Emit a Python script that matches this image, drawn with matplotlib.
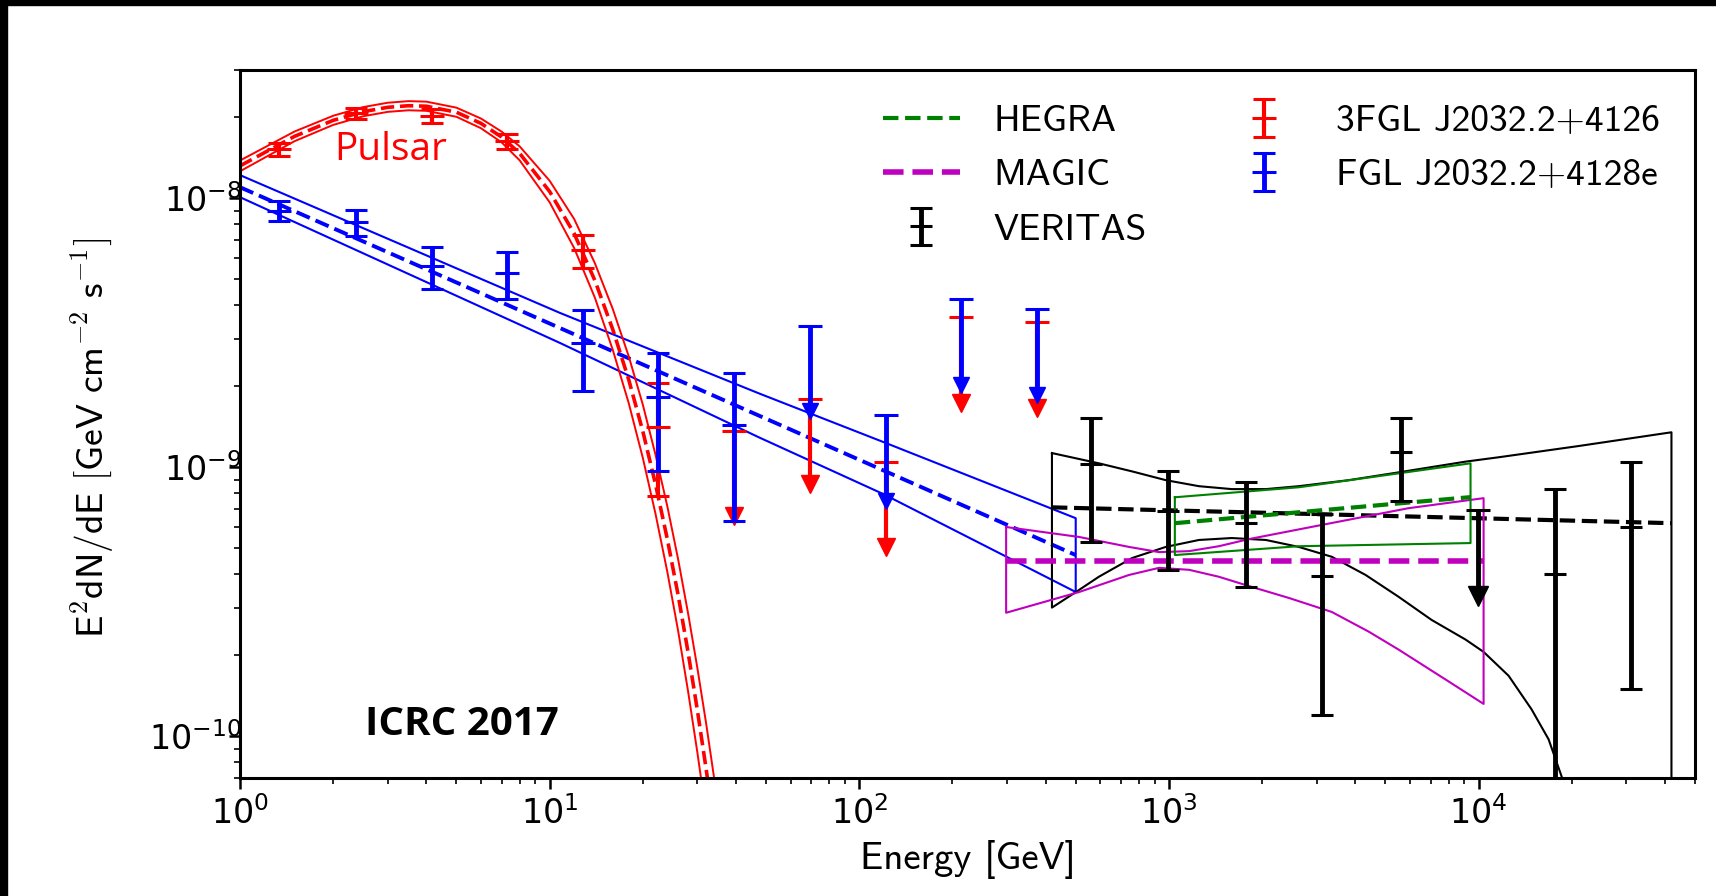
import numpy as np
import matplotlib.pyplot as plt
from matplotlib.patches import Rectangle
from matplotlib.ticker import NullFormatter

plt.rcParams['mathtext.fontset'] = 'cm'

# 3FGL J2032.2+4126 (pulsar) points, GeV and GeV cm^-2 s^-1
psr_e = [1.34, 2.37, 4.16, 7.27, 12.8, 22.4]
psr_f = [1.52e-8, 2.07e-8, 2.02e-8, 1.63e-8, 6.4e-9, 1.415e-9]
psr_err = [0.08e-8, 0.09e-8, 0.12e-8, 0.10e-8, 0.9e-9, 0.635e-9]
psr_ul_e = [39.4, 69.2, 121.6, 213.7, 375.5]
psr_ul = [1.37e-9, 1.80e-9, 1.05e-9, 3.62e-9, 3.47e-9]

# FGL J2032.2+4128e (extended source) points
ext_e = [1.34, 2.37, 4.16, 7.27, 12.8, 22.4, 39.4]
ext_f = [9.0e-9, 8.15e-9, 5.6e-9, 5.27e-9, 2.89e-9, 1.82e-9, 1.44e-9]
ext_err = [0.75e-9, 0.93e-9, 0.98e-9, 1.04e-9, 0.96e-9, 0.85e-9, 0.81e-9]
ext_ul_e = [69.2, 121.6, 213.7, 375.5]
ext_ul = [3.36e-9, 1.56e-9, 4.22e-9, 3.88e-9]

# VERITAS points
ver_e = [560, 993, 1771, 3119, 5600, 17590, 31170]
ver_f = [1.03e-9, 6.9e-10, 6.2e-10, 3.95e-10, 1.14e-9, 4.02e-10, 6.0e-10]
ver_err = [5.0e-10, 2.75e-10, 2.6e-10, 2.75e-10, 3.9e-10, 4.28e-10, 4.5e-10]
ver_ul_e = [9930]
ver_ul = [6.93e-10]

# pulsar model curve and band half width (dex)
psr_mod_e = [1, 1.5, 2, 2.5, 3, 3.5, 4, 5, 6, 7, 8, 10, 12, 14, 16, 18, 20,
             22, 24, 26, 28, 30, 32, 34, 36]
psr_mod_f = [1.32e-8, 1.70e-8, 1.95e-8, 2.10e-8, 2.18e-8, 2.21e-8, 2.20e-8,
             2.09e-8, 1.90e-8, 1.69e-8, 1.47e-8, 1.06e-8, 7.4e-9, 4.95e-9,
             3.25e-9, 2.12e-9, 1.36e-9, 8.6e-10, 5.4e-10, 3.35e-10, 2.05e-10,
             1.25e-10, 7.6e-11, 4.6e-11, 2.75e-11]
psr_mod_dex = [0.02, 0.018, 0.017, 0.017, 0.017, 0.017, 0.017, 0.017, 0.018,
               0.02, 0.026, 0.04, 0.054, 0.064, 0.076, 0.087, 0.099, 0.11,
               0.122, 0.133, 0.145, 0.157, 0.169, 0.18, 0.19]

# extended source power law bowtie
ext_band_e = [1, 10.8, 47.6, 120, 500]
ext_band_hi = [1.22e-8, 3.75e-9, 1.88e-9, 1.24e-9, 6.47e-10]
ext_band_lo = [1.01e-8, 2.90e-9, 1.29e-9, 7.94e-10, 3.44e-10]
ext_fit_e = [1, 500]
ext_fit_f = [1.10e-8, 4.72e-10]

# MAGIC bowtie
mag_hi_e = [298, 513, 743, 929, 1161, 1449, 1812, 3357, 5945, 10380]
mag_hi_f = [6.0e-10, 5.51e-10, 5.06e-10, 4.84e-10, 4.88e-10, 5.09e-10,
            5.41e-10, 6.21e-10, 7.05e-10, 7.68e-10]
mag_lo_e = [298, 513, 743, 929, 1161, 1449, 1812, 2438, 3357, 4418, 5521,
            8000, 10380]
mag_lo_f = [2.88e-10, 3.44e-10, 3.98e-10, 4.23e-10, 4.16e-10, 3.92e-10,
            3.62e-10, 3.27e-10, 2.90e-10, 2.45e-10, 2.10e-10, 1.60e-10,
            1.32e-10]
mag_fit_e = [298, 10380]
mag_fit_f = [4.5e-10, 4.5e-10]

# VERITAS bowtie
vb_hi_e = [419, 594, 760, 977, 1250, 1596, 2056, 2626, 3808, 5521, 9074,
           11610, 21030, 41970]
vb_hi_f = [1.13e-9, 1.035e-9, 9.66e-10, 8.96e-10, 8.51e-10, 8.30e-10,
           8.30e-10, 8.51e-10, 8.96e-10, 9.58e-10, 1.05e-9, 1.09e-9, 1.20e-9,
           1.35e-9]
vb_lo_e = [419, 501, 594, 760, 977, 1250, 1596, 2056, 2626, 3357, 4317, 5521,
           7047, 9074, 10380, 12500, 14830, 16830, 18530, 25000, 41970]
vb_lo_f = [3.01e-10, 3.44e-10, 3.92e-10, 4.60e-10, 5.06e-10, 5.37e-10,
           5.46e-10, 5.37e-10, 5.06e-10, 4.65e-10, 3.98e-10, 3.30e-10,
           2.71e-10, 2.29e-10, 2.06e-10, 1.68e-10, 1.26e-10, 9.75e-11,
           7.11e-11, 2.5e-11, 1e-12]
vb_fit_e = [419, 41970]
vb_fit_f = [7.1e-10, 6.2e-10]

# HEGRA bowtie
heg_e = [1045, 2626, 9420]
heg_hi_f = [7.74e-10, 8.43e-10, 1.035e-9]
heg_lo_f = [4.72e-10, 5.09e-10, 5.23e-10]
heg_fit_e = [1045, 9420]
heg_fit_f = [6.2e-10, 7.75e-10]


def bowtie(ax, hi_e, hi_f, lo_e, lo_f, color, lw=1.5):
    xs = list(hi_e) + list(lo_e[::-1]) + [hi_e[0]]
    ys = list(hi_f) + list(lo_f[::-1]) + [hi_f[0]]
    ax.plot(xs, ys, color=color, lw=lw)


def upper_limits(ax, e, ul, color, lw, ms):
    ul = np.array(ul)
    end = ul * 0.48
    ax.vlines(e, end, ul, color=color, lw=lw)
    ax.plot(e, ul, '_', color=color, ms=17, mew=2.2)
    ax.plot(e, end, 'v', color=color, ms=ms, mec=color)


fig = plt.figure(figsize=(17.16, 8.96), dpi=100)
ax = fig.add_axes([240 / 1716, 1 - 778 / 896, 1455 / 1716, 708 / 896])
ax.set_xscale('log')
ax.set_yscale('log')

# models
bowtie(ax, ext_band_e, ext_band_hi, ext_band_e, ext_band_lo, 'blue')
ax.plot(ext_fit_e, ext_fit_f, '--', color='blue', lw=2.8)

pm = np.array(psr_mod_f)
pd_ = 10 ** np.array(psr_mod_dex)
ax.plot(psr_mod_e, pm * pd_, color='red', lw=1.4)
ax.plot(psr_mod_e, pm / pd_, color='red', lw=1.4)
ax.plot(psr_mod_e, pm, '--', color='red', lw=2.6)

bowtie(ax, vb_hi_e, vb_hi_f, vb_lo_e, vb_lo_f, 'black')
ax.plot(vb_fit_e, vb_fit_f, '--', color='black', lw=3)

bowtie(ax, mag_hi_e, mag_hi_f, mag_lo_e, mag_lo_f, 'm')
mag_line, = ax.plot(mag_fit_e, mag_fit_f, '--', color='m', lw=4)

bowtie(ax, heg_e, heg_hi_f, heg_e, heg_lo_f, 'green')
heg_line, = ax.plot(heg_fit_e, heg_fit_f, '--', color='green', lw=3)

# data
psr_pts = ax.errorbar(psr_e, psr_f, yerr=psr_err, fmt='_', color='red', ms=17,
                      mew=2.2, elinewidth=3, capsize=8, capthick=2.2)
upper_limits(ax, psr_ul_e, psr_ul, 'red', 3, 13)

ext_pts = ax.errorbar(ext_e, ext_f, yerr=ext_err, fmt='_', color='blue', ms=17,
                      mew=2.2, elinewidth=3.5, capsize=8, capthick=2.2)
upper_limits(ax, ext_ul_e, ext_ul, 'blue', 3.5, 12)

vf = np.array(ver_f)
ve = np.array(ver_err)
ver_lo = np.minimum(ve, vf - 1e-13)
ver_pts = ax.errorbar(ver_e, ver_f, yerr=[ver_lo, ve], fmt='_', color='black',
                      ms=16, mew=2.2, elinewidth=3.5, capsize=8, capthick=2.2)
upper_limits(ax, ver_ul_e, ver_ul, 'black', 3.5, 15)

ax.set_xlim(1, 5e4)
ax.set_ylim(7e-11, 3e-8)
ax.xaxis.set_minor_formatter(NullFormatter())
ax.yaxis.set_minor_formatter(NullFormatter())

for s in ax.spines.values():
    s.set_linewidth(2.2)
ax.tick_params(which='major', direction='out', length=8, width=1.8,
               labelsize=24)
ax.tick_params(axis='x', which='major', pad=5)
ax.tick_params(axis='y', which='major', pad=-9)
ax.tick_params(which='minor', direction='out', length=4.5, width=1.2)

ax.set_xlabel('Energy [GeV]', fontsize=28, family='cmss10')
ax.xaxis.set_label_coords(0.5, -0.088)
ax.set_ylabel(r'$\mathsf{E^2dN/dE\ [GeV\ cm^{-2}\ s^{-1}]}$', fontsize=27)
ax.yaxis.set_label_coords(-0.085, 0.48)

handles = [heg_line, mag_line, ver_pts, psr_pts, ext_pts]
labels = ['HEGRA', 'MAGIC', 'VERITAS', '3FGL J2032.2+4126', 'FGL J2032.2+4128e']
ax.legend(handles, labels, ncol=2, loc='upper left',
          bbox_to_anchor=(0.4316, 0.972), borderaxespad=0, frameon=False,
          prop={'family': 'cmss10', 'size': 27}, handlelength=2.05,
          handletextpad=0.9, columnspacing=2.1, labelspacing=0.56,
          borderpad=0.4)

ax.text(0.0646, 0.873, 'Pulsar', transform=ax.transAxes, color='red',
        fontsize=28, family='Open Sans', va='baseline')
ax.text(0.0859, 0.0607, 'ICRC 2017', transform=ax.transAxes, color='black',
        fontsize=29, family='Open Sans', fontweight='bold', va='baseline')

# black strips from the slide screenshot
fig.add_artist(Rectangle((0, 1 - 5 / 896), 1, 5 / 896, transform=fig.transFigure,
                         color='black', zorder=10))
fig.add_artist(Rectangle((0, 0), 7 / 1716, 1, transform=fig.transFigure,
                         color='black', zorder=10))

fig.savefig('out.png', dpi=100)
